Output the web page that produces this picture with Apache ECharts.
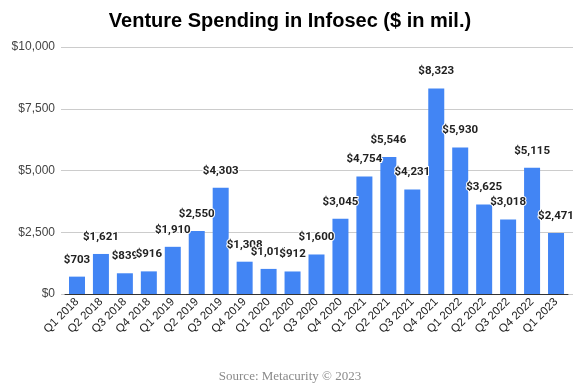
<!DOCTYPE html>
<html><head><meta charset="utf-8">
<script src="https://cdn.jsdelivr.net/npm/echarts@6/dist/echarts.min.js"></script>
<style>html,body{margin:0;padding:0;background:#fff}#c{width:580px;height:386px}</style>
</head><body><div id="c"></div>
<script>
const categories = ["Q1 2018","Q2 2018","Q3 2018","Q4 2018","Q1 2019","Q2 2019","Q3 2019","Q4 2019","Q1 2020","Q2 2020","Q3 2020","Q4 2020","Q1 2021","Q2 2021","Q3 2021","Q4 2021","Q1 2022","Q2 2022","Q3 2022","Q4 2022","Q1 2023"];
const spending = [703,1621,839,916,1910,2550,4303,1308,1016,912,1600,3045,4754,5546,4231,8323,5930,3625,3018,5115,2471];
const yTicks = [0,2500,5000,7500,10000];

const fmt = v => '$' + v.toLocaleString('en-US');
const chart = echarts.init(document.getElementById('c'));
chart.setOption({
  animation:false,
  title:[
    {text:'Venture Spending in Infosec ($ in mil.)',left:'center',top:6,
     textStyle:{fontFamily:'Liberation Sans',fontWeight:'bold',fontSize:20,color:'#000'}},
    {text:'Source: Metacurity © 2023',left:'center',top:365,
     textStyle:{fontFamily:'Liberation Serif',fontWeight:'normal',fontSize:13,color:'#8a8a8a'}}
  ],
  grid:[
    {left:65,right:12,top:47,bottom:92},
    {left:61,right:7,top:47,bottom:92}
  ],
  xAxis:[
    {type:'category',gridIndex:0,data:categories,
     axisLine:{lineStyle:{color:'#333',width:1}},axisTick:{show:false},
     axisLabel:{rotate:45,fontFamily:'Liberation Sans',fontSize:11.5,color:'#222',margin:6,interval:0}},
    {type:'value',gridIndex:1,show:false}
  ],
  yAxis:[
    {type:'value',gridIndex:0,min:0,max:10000,interval:2500,show:false,splitLine:{show:false}},
    {type:'value',gridIndex:1,min:yTicks[0],max:yTicks[yTicks.length-1],interval:2500,
     axisLine:{show:false},axisTick:{show:false},
     splitLine:{lineStyle:{color:'#cccccc'}},
     axisLabel:{formatter:v=>fmt(v),fontFamily:'Liberation Sans',fontSize:12,color:'#444',margin:6}}
  ],
  series:[{
    type:'bar',xAxisIndex:0,yAxisIndex:0,data:spending,barWidth:16,
    itemStyle:{color:'#4285F4'},
    label:{show:true,position:'top',distance:11,formatter:p=>fmt(p.value),
      fontFamily:'Roboto',fontWeight:'bold',fontSize:11.5,color:'#222',
      textBorderColor:'#fff',textBorderWidth:2}
  }]
});
</script></body></html>
